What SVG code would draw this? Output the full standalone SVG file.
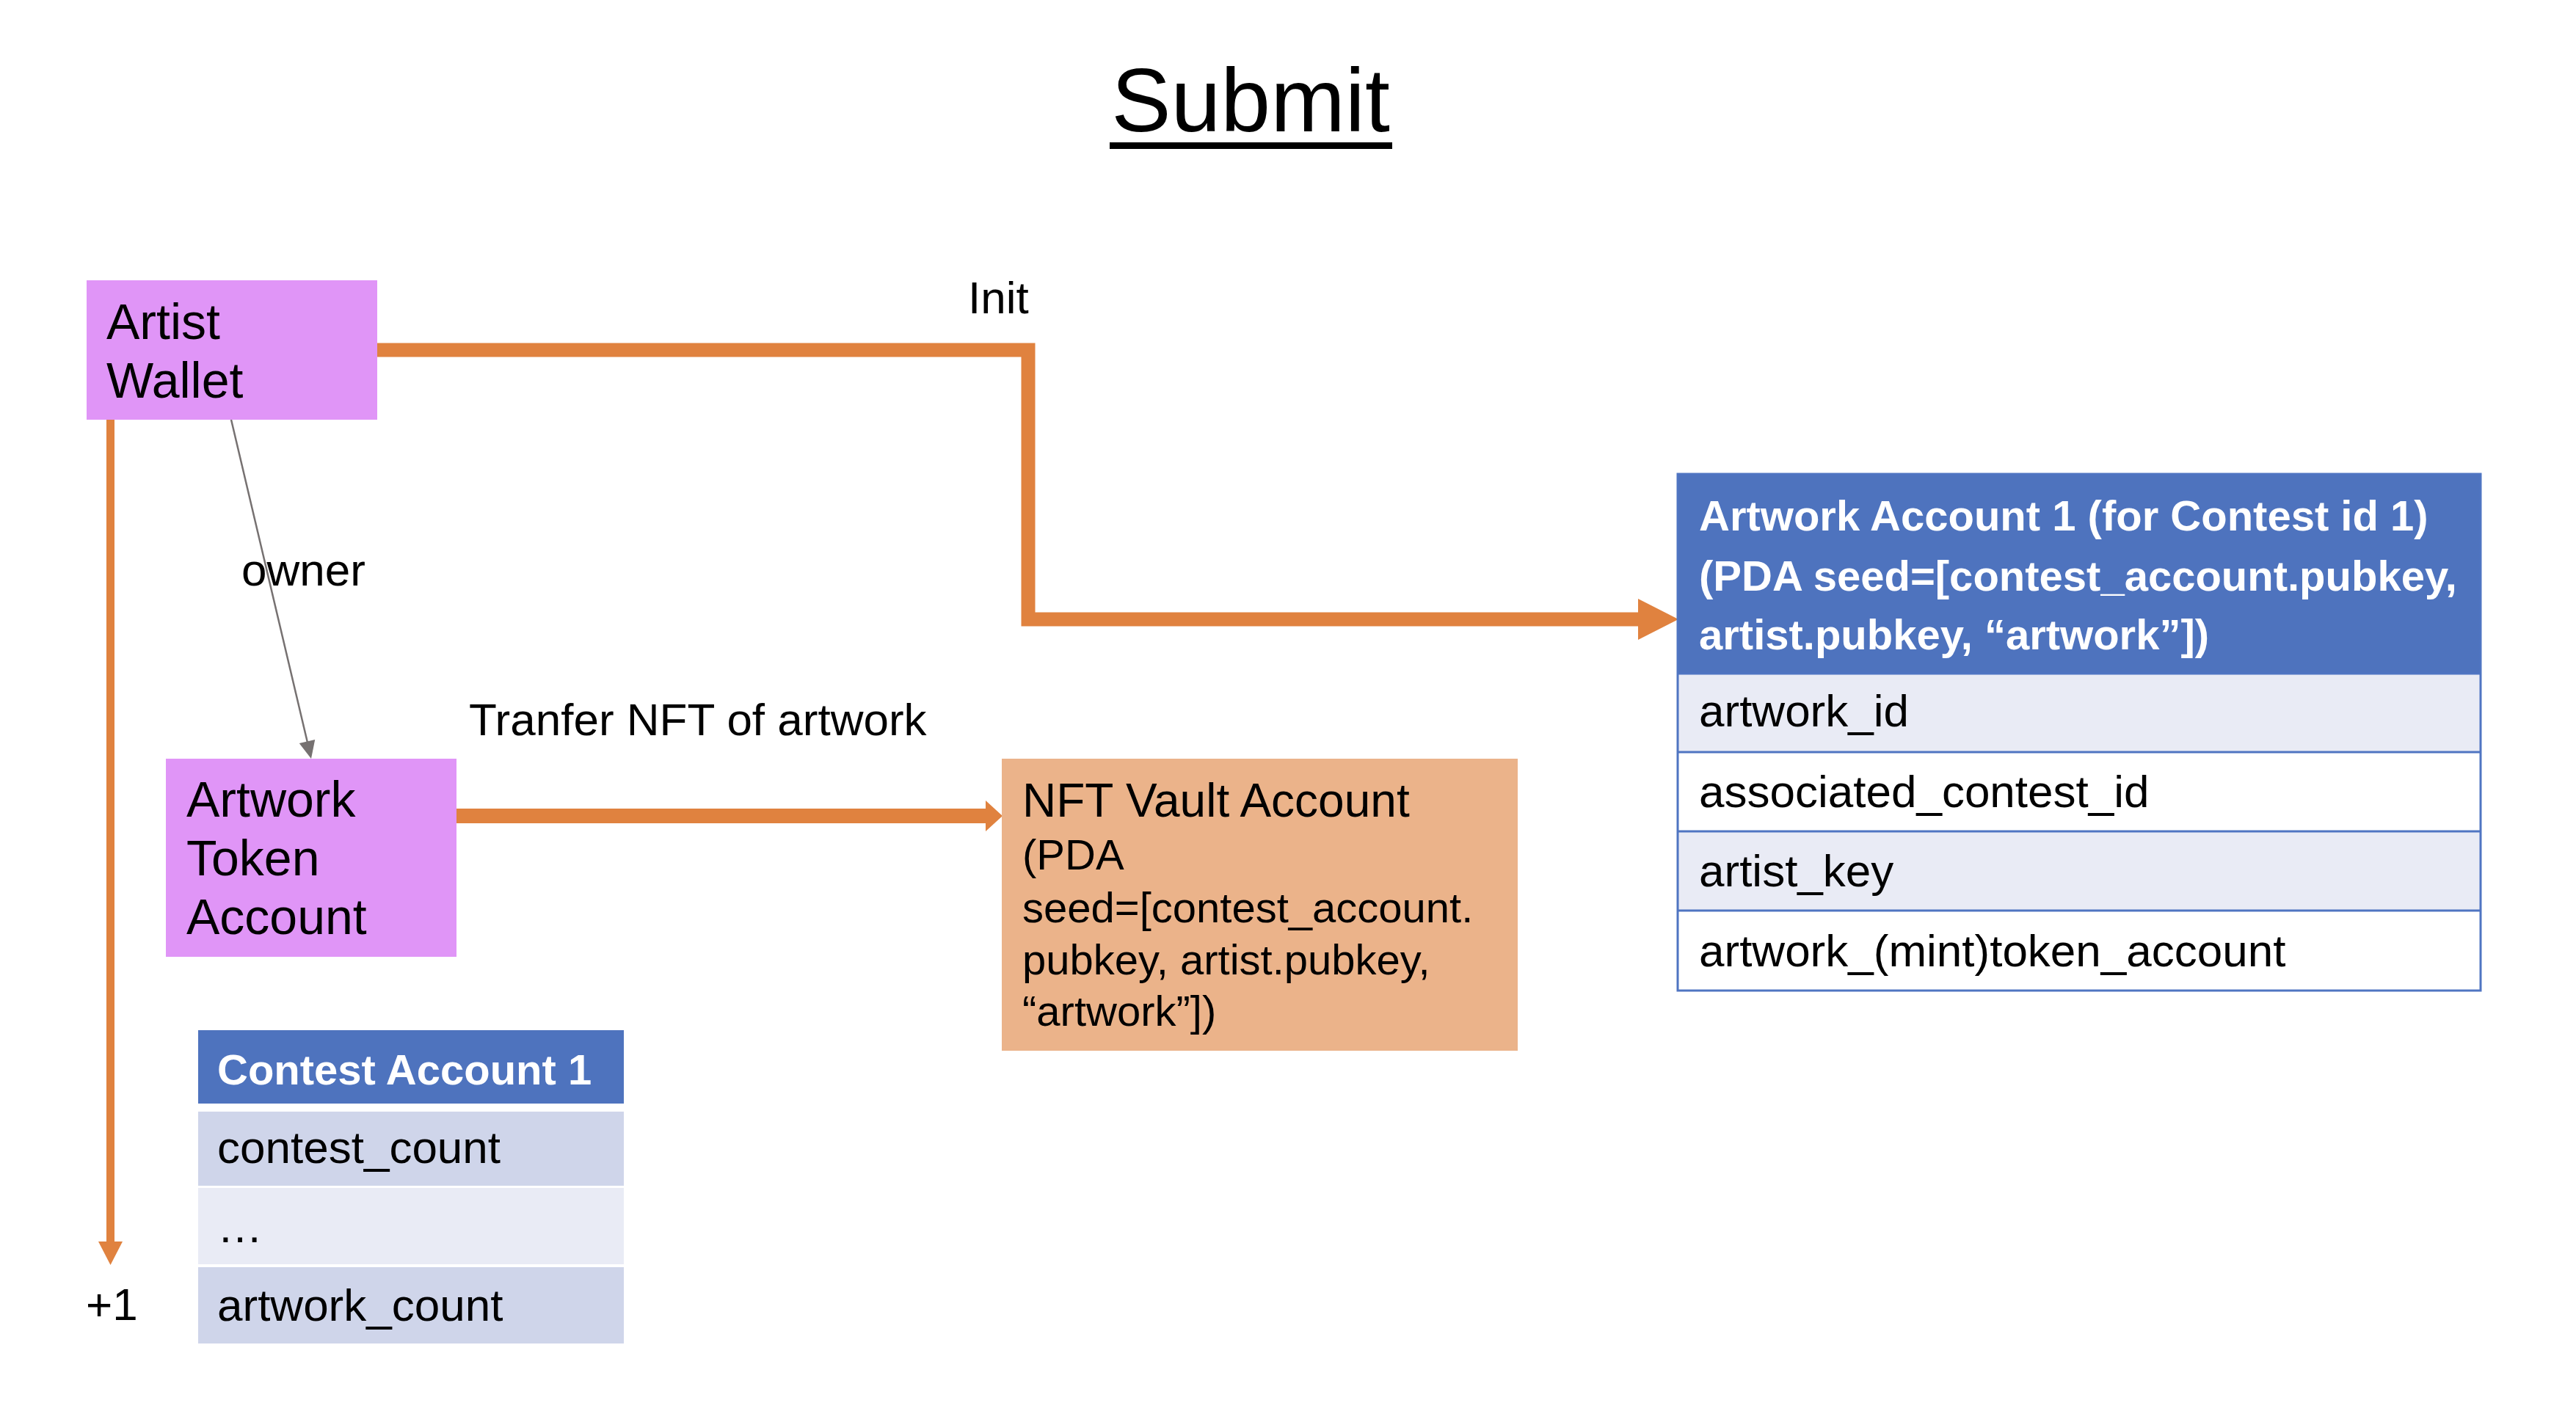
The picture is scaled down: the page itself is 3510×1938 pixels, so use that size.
<svg xmlns="http://www.w3.org/2000/svg" width="3510" height="1938" viewBox="0 0 3510 1938">
<style>
text{font-family:"Liberation Sans",Arial,sans-serif;fill:#000}
.node{font-size:68px}
.lbl{font-size:62px}
.row{font-size:62px}
.hdr{font-size:58px;font-weight:bold;fill:#fff}
.orange{stroke:#E0823F;fill:none;stroke-linejoin:miter}
.ahead{fill:#E0823F}
.lilac{fill:#E095F7}
</style>
<rect width="3510" height="1938" fill="#fff"/>
<g id="title">
<text x="1704" y="179" text-anchor="middle" font-size="122">Submit</text>
<rect x="1512" y="194" width="385" height="9" fill="#000"/>
</g>
<g id="connectors">
<path class="orange" d="M514,477 H1401 V844 H2234" stroke-width="19"/>
<polygon class="ahead" points="2232,816 2287,844 2232,872"/>
<path class="orange" d="M622,1112 H1345" stroke-width="20"/>
<polygon class="ahead" points="1343,1091 1366,1112 1343,1133"/>
<path class="orange" d="M150.5,572 V1694" stroke-width="11"/>
<polygon class="ahead" points="134,1692 167,1692 150.5,1724"/>
<line x1="315" y1="572" x2="419" y2="1012" stroke="#767171" stroke-width="2.5"/>
<polygon points="407.8,1013.1 429.2,1008.1 424,1034" fill="#767171"/>
<text class="lbl" x="1319" y="427">Init</text>
<text class="lbl" x="329" y="798">owner</text>
<text class="lbl" x="639" y="1002" font-size="59">Tranfer NFT of artwork</text>
<text class="lbl" x="117" y="1799" font-size="58">+1</text>
</g>
<g id="artist-wallet">
<rect class="lilac" x="118" y="382" width="396" height="190"/>
<text class="node" x="145" y="462">Artist</text>
<text class="node" x="145" y="542">Wallet</text>
</g>
<g id="artwork-token-account">
<rect class="lilac" x="226" y="1034" width="396" height="270"/>
<text class="node" x="254" y="1113">Artwork</text>
<text class="node" x="254" y="1193">Token</text>
<text class="node" x="254" y="1273">Account</text>
</g>
<g id="nft-vault-account">
<rect x="1365" y="1034" width="703" height="398" fill="#EBB38A"/>
<text x="1393" y="1113" font-size="64">NFT Vault Account</text>
<text x="1393" y="1185" font-size="58">(PDA</text>
<text x="1393" y="1257" font-size="58">seed=[contest_account.</text>
<text x="1393" y="1328" font-size="58">pubkey, artist.pubkey,</text>
<text x="1393" y="1398" font-size="58">“artwork”])</text>
</g>
<g id="artwork-account-1">
<rect x="2286" y="646" width="1094" height="272" fill="#4E73BE"/>
<rect x="2286" y="918" width="1094" height="107" fill="#E9EBF5"/>
<rect x="2286" y="1025" width="1094" height="108" fill="#fff"/>
<rect x="2286" y="1133" width="1094" height="108" fill="#E9EBF5"/>
<rect x="2286" y="1241" width="1094" height="109" fill="#fff"/>
<g stroke="#4F75C2" stroke-width="3" fill="none">
<rect x="2286" y="646" width="1094" height="704"/>
<line x1="2286" y1="918" x2="3380" y2="918"/>
<line x1="2286" y1="1025" x2="3380" y2="1025"/>
<line x1="2286" y1="1133" x2="3380" y2="1133"/>
<line x1="2286" y1="1241" x2="3380" y2="1241"/>
</g>
<text class="hdr" x="2315" y="723">Artwork Account 1 (for Contest id 1)</text>
<text class="hdr" x="2315" y="805">(PDA seed=[contest_account.pubkey,</text>
<text class="hdr" x="2315" y="885">artist.pubkey, “artwork”])</text>
<text class="row" x="2315" y="990">artwork_id</text>
<text class="row" x="2315" y="1100">associated_contest_id</text>
<text class="row" x="2315" y="1208">artist_key</text>
<text class="row" x="2315" y="1317">artwork_(mint)token_account</text>
</g>
<g id="contest-account-1">
<rect x="270" y="1404" width="580" height="100" fill="#4E73BE"/>
<rect x="270" y="1515" width="580" height="101" fill="#CFD5EA"/>
<rect x="270" y="1619" width="580" height="104" fill="#E9EBF5"/>
<rect x="270" y="1727" width="580" height="104" fill="#CFD5EA"/>
<text class="hdr" x="296" y="1478" font-size="57">Contest Account 1</text>
<text class="row" x="296" y="1585">contest_count</text>
<text class="row" x="296" y="1693">…</text>
<text class="row" x="296" y="1800">artwork_count</text>
</g>
</svg>
